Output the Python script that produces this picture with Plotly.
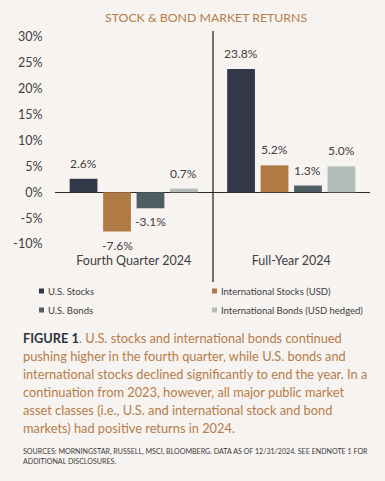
import plotly.graph_objects as go

# ---- data ----
categories = ["Fourth Quarter 2024", "Full-Year 2024"]
series_names = ["U.S. Stocks", "International Stocks (USD)", "U.S. Bonds", "International Bonds (USD hedged)"]
us_stocks = [2.6, 23.8]
intl_stocks = [-7.6, 5.2]
us_bonds = [-3.1, 1.3]
intl_bonds = [0.7, 5.0]
y_ticks = [-10, -5, 0, 5, 10, 15, 20, 25, 30]

series_values = [us_stocks, intl_stocks, us_bonds, intl_bonds]
colors = ["#323847", "#B07A45", "#4F5D65", "#B2BCBA"]

BG = "#F7F3F0"
TXT = "#404040"
BROWN = "#B47D4A"
FONT = "Lato"

W, H = 385, 481
ML, MR, MT, MB = 55, 15, 37, 237
PW, PH = W - ML - MR, H - MT - MB
BARGAP, GROUPGAP = 0.15, 0.17


def px_x(x):
    return (x - ML) / PW


def px_y(y):
    return (H - MB - y) / PH


fig = go.Figure()
for name, vals, col in zip(series_names, series_values, colors):
    fig.add_trace(go.Bar(
        x=categories, y=vals, name=name, marker=dict(color=col, line=dict(width=0)),
        showlegend=False,
    ))

shapes = [
    dict(type="line", xref="paper", yref="paper", x0=px_x(213), x1=px_x(213),
         y0=px_y(31), y1=px_y(282), line=dict(color="#2B2B2B", width=1.3)),
]
annotations = [
    dict(text="STOCK &amp; BOND MARKET RETURNS", xref="paper", yref="paper",
         x=px_x(206), y=px_y(17), xanchor="center", yanchor="middle", showarrow=False,
         font=dict(family=FONT, size=12.3, color=BROWN)),
]

# value labels placed on each bar (offset within group computed from bar layout)
band_px = PW / len(categories)
slot_px = band_px * (1 - BARGAP) / len(series_values)
n = len(series_values)
for si, vals in enumerate(series_values):
    xoff = (si - (n - 1) / 2) * slot_px
    for cat, v in zip(categories, vals):
        annotations.append(dict(
            text=f"{v:.1f}%", xref="x", yref="y", x=cat, y=v, xshift=xoff,
            yanchor="bottom" if v >= 0 else "top", yshift=6 if v >= 0 else -4,
            showarrow=False, font=dict(family=FONT, size=12, color=TXT)))

# legend (custom, two columns)
leg_pos = [(39, 291), (212, 291), (39, 310), (212, 310)]
for (lx, ly), name, col in zip(leg_pos, series_names, colors):
    shapes.append(dict(type="rect", xref="paper", yref="paper",
                       x0=px_x(lx), x1=px_x(lx + 5), y0=px_y(ly - 2.5), y1=px_y(ly + 2.5),
                       fillcolor=col, line=dict(width=0)))
    annotations.append(dict(text=name, xref="paper", yref="paper", x=px_x(lx + 7), y=px_y(ly),
                            xanchor="left", yanchor="middle", showarrow=False,
                            font=dict(family=FONT, size=9.5, color=TXT)))

caption_lines = [
    "<b><span style='color:#2E3440'>FIGURE 1</span></b>. U.S. stocks and international bonds continued",
    "pushing higher in the fourth quarter, while U.S. bonds and",
    "international stocks declined significantly to end the year. In a",
    "continuation from 2023, however, all major public market",
    "asset classes (i.e., U.S. and international stock and bond",
    "markets) had positive returns in 2024.",
]
for i, line in enumerate(caption_lines):
    annotations.append(dict(text=line, xref="paper", yref="paper", x=px_x(21), y=px_y(338 + 18 * i),
                            xanchor="left", yanchor="middle", showarrow=False,
                            font=dict(family=FONT, size=12.8, color=BROWN)))

source_lines = [
    "SOURCES: MORNINGSTAR, RUSSELL, MSCI, BLOOMBERG. DATA AS OF 12/31/2024. SEE ENDNOTE 1 FOR",
    "ADDITIONAL DISCLOSURES.",
]
for i, line in enumerate(source_lines):
    annotations.append(dict(text=line, xref="paper", yref="paper", x=px_x(21), y=px_y(451 + 10 * i),
                            xanchor="left", yanchor="middle", showarrow=False,
                            font=dict(family=FONT, size=7.1, color="#3A3A3A")))

fig.update_layout(
    width=W, height=H, autosize=False,
    margin=dict(l=ML, r=MR, t=MT, b=MB, pad=0),
    paper_bgcolor=BG, plot_bgcolor=BG,
    barmode="group", bargap=BARGAP, bargroupgap=GROUPGAP,
    showlegend=False,
    font=dict(family=FONT, size=12, color=TXT),
    shapes=shapes, annotations=annotations,
    xaxis=dict(showgrid=False, showline=False, zeroline=False, ticks="outside", ticklen=5,
               tickcolor=BG, tickfont=dict(family=FONT, size=12.5, color=TXT), fixedrange=True),
    yaxis=dict(range=[-10, 30], tickvals=y_ticks, ticktext=[f"{v}%" for v in y_ticks],
               showgrid=False, showline=False, zeroline=True, zerolinecolor="#2B2B2B",
               zerolinewidth=1.3, ticks="outside", ticklen=9, tickcolor=BG,
               tickfont=dict(family=FONT, size=12.5, color=TXT), fixedrange=True),
)

fig.write_html("out.html", config={"displayModeBar": False},
               post_script="document.body.style.margin='0';document.body.style.background='" + BG + "';")
